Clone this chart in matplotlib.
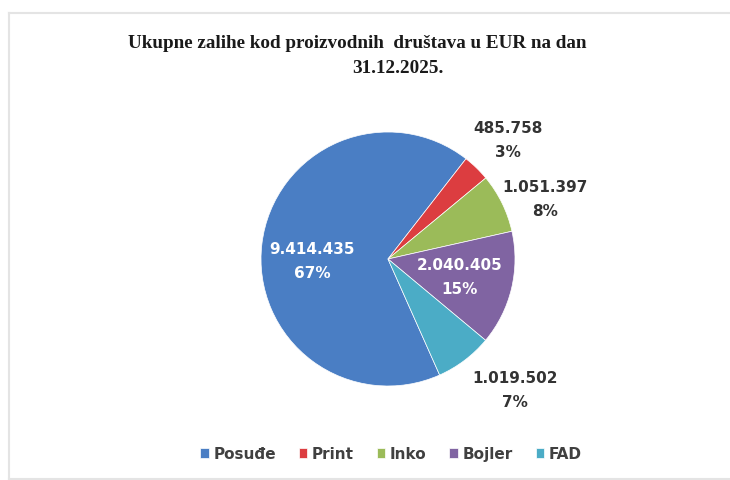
import matplotlib
matplotlib.use("Agg")
import matplotlib.pyplot as plt
from matplotlib.lines import Line2D
import numpy as np

categories = ["Posuđe", "Print", "Inko", "Bojler", "FAD"]
values = [9414435, 485758, 1051397, 2040405, 1019502]
colors = ["#4A7EC4", "#DC3D40", "#9BBB59", "#8064A2", "#4BACC6"]
# label placement (style): radius in pie units and angle offset from the wedge middle
label_radius = [0.60, 1.336, 1.323, 0.584, 1.431]
label_angle_offset = [8.0, -0.9, -5.2, -0.4, 7.2]
label_colors = ["white", "#333333", "#333333", "white", "#333333"]

W, H = 730, 481
fig = plt.figure(figsize=(W / 100, H / 100), dpi=100)
fig.patch.set_facecolor("white")

# light frame: left, top and bottom edges only
fx0, fy_top, fy_bot = 8.5 / W, 1 - 13.5 / H, 1.5 / H
for xs, ys in [([fx0, fx0], [fy_bot, fy_top]), ([fx0, 1.0], [fy_top, fy_top]),
               ([fx0, 1.0], [fy_bot, fy_bot])]:
    fig.add_artist(Line2D(xs, ys, transform=fig.transFigure, color="#E4E4E4", linewidth=1.5))

cx, cy, r = 388, 260, 127
ax = fig.add_axes([(cx - r) / W, (H - cy - r) / H, 2 * r / W, 2 * r / H])
wedges, _ = ax.pie(values, colors=colors, startangle=-66, counterclock=False,
                   wedgeprops=dict(linewidth=0.5, edgecolor="white"))
ax.set_xlim(-1, 1)
ax.set_ylim(-1, 1)
ax.set_aspect("equal")
ax.axis("off")

total = sum(values)
for w, v, rr, off, c in zip(wedges, values, label_radius, label_angle_offset, label_colors):
    mid = np.deg2rad((w.theta1 + w.theta2) / 2 + off)
    x, y = rr * np.cos(mid), rr * np.sin(mid)
    txt = f"{v:,}".replace(",", ".") + f"\n{round(100 * v / total)}%"
    ax.text(x, y, txt, ha="center", va="center", color=c, fontsize=11,
            fontweight="bold", family="DejaVu Sans", linespacing=1.75)

fig.text(357 / W, 1 - 43 / H, "Ukupne zalihe kod proizvodnih  društava u EUR na dan",
         ha="center", va="center", fontsize=13.8, fontweight="bold",
         family="Liberation Serif", color="#1a1a1a")
fig.text(398 / W, 1 - 69 / H, "31.12.2025.", ha="center", va="center", fontsize=13.8,
         fontweight="bold", family="Liberation Serif", color="#1a1a1a")

fig.legend(wedges, categories, loc="center", bbox_to_anchor=(391 / W, 1 - 455 / H),
           ncol=5, frameon=False, handlelength=0.55, handleheight=0.55, handletextpad=0.3,
           columnspacing=1.5, prop=dict(size=11, weight="bold", family="DejaVu Sans"),
           labelcolor="#404040")

fig.savefig("out.png", dpi=100)
